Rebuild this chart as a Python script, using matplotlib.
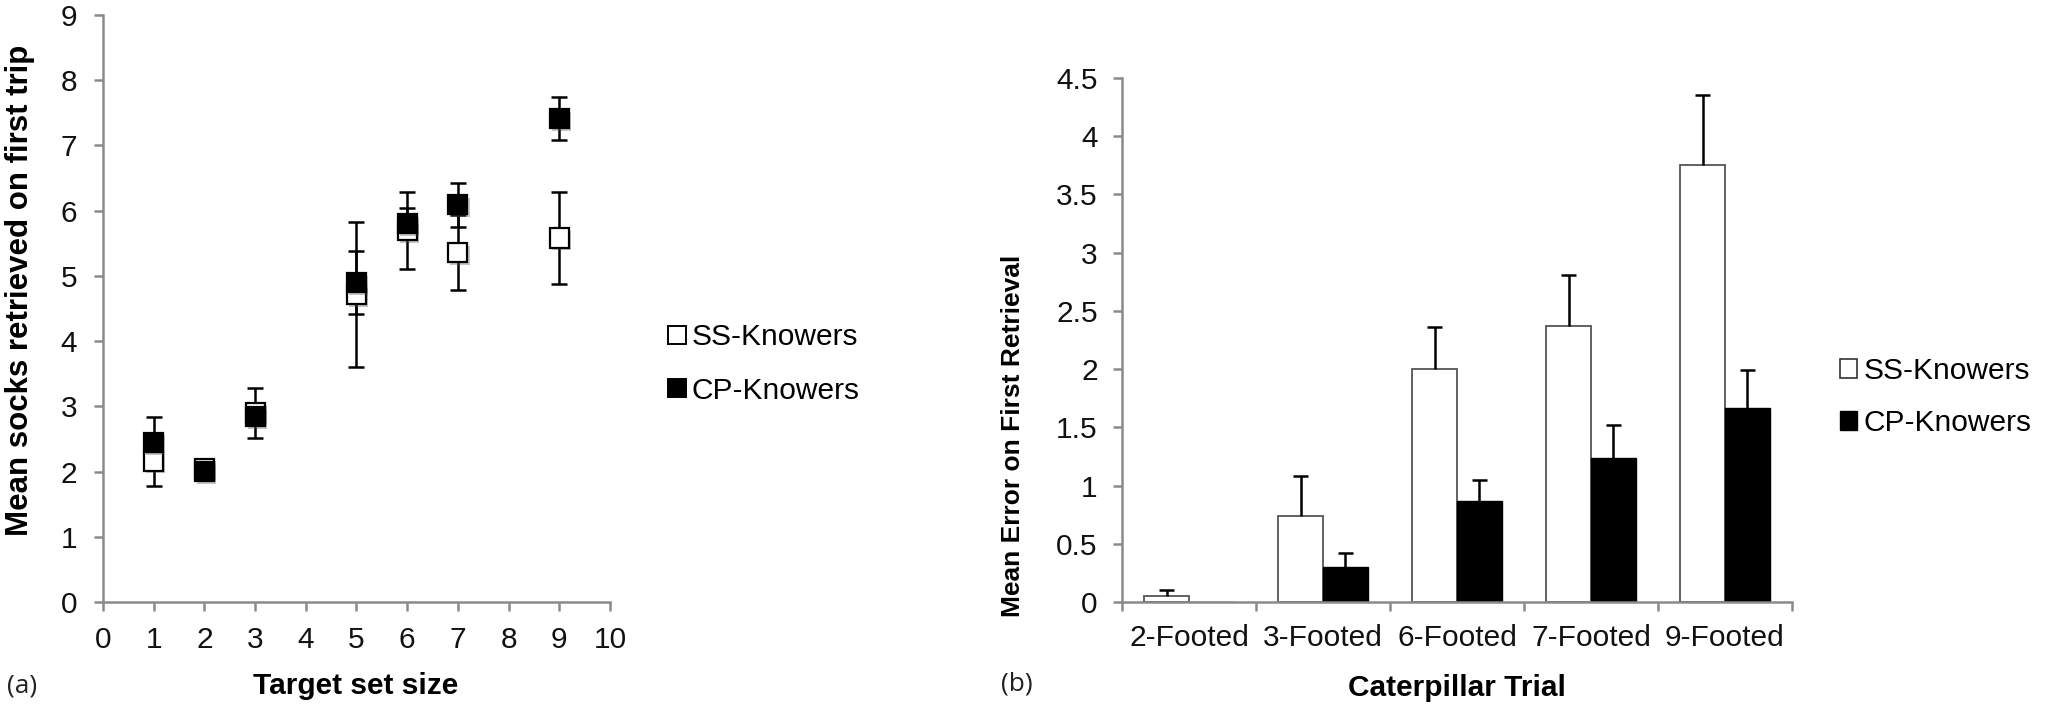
import numpy as np
import matplotlib
matplotlib.use("Agg")
import matplotlib.pyplot as plt
import matplotlib.patheffects as pe
from matplotlib.lines import Line2D
from matplotlib.patches import Patch
from matplotlib import font_manager

# panel (a): mean socks retrieved on first trip
set_sizes = [1, 2, 3, 5, 6, 7, 9]
ss_socks = [2.16, 2.05, 2.90, 4.71, 5.69, 5.36, 5.58]
ss_socks_err = [0.38, 0.08, 0.38, 1.11, 0.59, 0.58, 0.70]
cp_socks = [2.45, 2.00, 2.84, 4.90, 5.80, 6.09, 7.41]
cp_socks_err = [0.39, 0.10, 0.12, 0.48, 0.24, 0.34, 0.33]

# panel (b): mean error on first retrieval
trials = ["2-Footed", "3-Footed", "6-Footed", "7-Footed", "9-Footed"]
ss_error = [0.05, 0.735, 2.00, 2.37, 3.75]
ss_error_sem = [0.05, 0.345, 0.36, 0.44, 0.60]
cp_error = [0.0, 0.30, 0.87, 1.24, 1.67]
cp_error_sem = [0.0, 0.12, 0.18, 0.28, 0.32]

groups = ["SS-Knowers", "CP-Knowers"]

FONT = "Liberation Sans"
installed = {f.name for f in font_manager.fontManager.ttflist}
NARROW = "Liberation Sans Narrow" if "Liberation Sans Narrow" in installed else None
plt.rcParams["font.family"] = [FONT, "DejaVu Sans"]
AXIS_GREY = "#8a8a8a"

W, H = 2055, 709
fig = plt.figure(figsize=(W / 100, H / 100), dpi=100)


def fx(px):
    return px / W


def fy(py):
    return 1 - py / H


def style_axes(ax):
    for s in ["top", "right"]:
        ax.spines[s].set_visible(False)
    for s in ["left", "bottom"]:
        ax.spines[s].set_color(AXIS_GREY)
        ax.spines[s].set_linewidth(1.8)
    ax.tick_params(which="both", direction="out", color=AXIS_GREY, width=1.8,
                   length=6.5, labelsize=21.5, labelcolor="#111111")


# ---- (a) scatter with error bars ----
ax1 = fig.add_axes([fx(103), fy(602), fx(610 - 103), (602 - 15) / H])
style_axes(ax1)
ax1.set_xlim(0, 10)
ax1.set_ylim(0, 9)
ax1.set_xticks(range(0, 11))
ax1.set_yticks(range(0, 10))
ax1.tick_params(axis="x", pad=11)
ax1.tick_params(axis="y", pad=12)

shadow = [pe.SimplePatchShadow(offset=(1.5, -2), shadow_rgbFace="#555555", alpha=0.35), pe.Normal()]
for means, errs in [(ss_socks, ss_socks_err), (cp_socks, cp_socks_err)]:
    ax1.errorbar(set_sizes, means, yerr=errs, fmt="none", ecolor="black",
                 elinewidth=1.8, capsize=6, capthick=1.8, zorder=2)
for means, face in [(ss_socks, "white"), (cp_socks, "black")]:
    ax1.plot(set_sizes, means, linestyle="none", marker="s", markersize=13.8,
             markerfacecolor=face, markeredgecolor="black", markeredgewidth=1.6,
             zorder=3, path_effects=shadow)

fig.legend(
    handles=[Line2D([], [], linestyle="none", marker="s", markersize=12.5,
                    markerfacecolor=f, markeredgecolor="black", markeredgewidth=1.4)
             for f in ["white", "black"]],
    labels=groups, loc="center left", bbox_to_anchor=(fx(668), fy(364)),
    frameon=False, fontsize=21.5, handlelength=0.6, handletextpad=0.2,
    labelspacing=0.85, borderpad=0, borderaxespad=0)

fig.text(fx(356), fy(686), "Target set size", ha="center", va="center",
         fontsize=21.5, fontweight="bold")
fig.text(fx(20), fy(290), "Mean socks retrieved on first trip", ha="center",
         va="center", rotation=90, fontsize=22.5, fontweight="bold")
fig.text(fx(7), fy(686), "(a)", ha="left", va="center", fontsize=19,
         family=["Open Sans", "DejaVu Sans"], color="#222222")

# ---- (b) grouped bars ----
ax2 = fig.add_axes([fx(1122), fy(602), fx(1792 - 1122), (602 - 78) / H])
style_axes(ax2)
x = np.arange(len(trials))
bw = 0.335
ax2.set_xlim(-0.5, len(trials) - 0.5)
ax2.set_ylim(0, 4.5)
ax2.set_yticks(np.arange(0, 4.51, 0.5))
ax2.set_yticklabels(["0", "0.5", "1", "1.5", "2", "2.5", "3", "3.5", "4", "4.5"])
ax2.set_xticks(x)
ax2.set_xticklabels(trials)
ax2.set_xticks(np.arange(-0.5, len(trials)), minor=True)
ax2.tick_params(axis="x", which="major", length=0, pad=16)
ax2.tick_params(axis="y", pad=11)

ax2.bar(x - bw / 2, ss_error, width=bw, color="white", edgecolor="#555555", linewidth=1.3, zorder=2)
ax2.bar(x + bw / 2, cp_error, width=bw, color="black", edgecolor="black", linewidth=1.0, zorder=2)

cap_half = 0.055
for offs, vals, errs in [(-bw / 2, ss_error, ss_error_sem), (bw / 2, cp_error, cp_error_sem)]:
    v = np.array(vals)
    e = np.array(errs)
    keep = e > 0
    xs = x[keep] + offs
    ax2.vlines(xs, v[keep], v[keep] + e[keep], color="black", linewidth=1.8, zorder=3)
    ax2.hlines(v[keep] + e[keep], xs - cap_half, xs + cap_half, color="black", linewidth=1.8, zorder=3)

fig.legend(
    handles=[Patch(facecolor="white", edgecolor="#333333", linewidth=1.2),
             Patch(facecolor="black", edgecolor="black")],
    labels=groups, loc="center left", bbox_to_anchor=(fx(1840), fy(397)),
    frameon=False, fontsize=21.5, handlelength=0.58, handleheight=0.62,
    handletextpad=0.22, labelspacing=0.8, borderpad=0, borderaxespad=0)

fig.text(fx(1457), fy(688), "Caterpillar Trial", ha="center", va="center",
         fontsize=21.5, fontweight="bold")
if NARROW:
    fig.text(fx(1013), fy(436), "Mean Error on First Retrieval", ha="center",
             va="center", rotation=90, fontsize=21.5, fontweight="bold", family=[NARROW, FONT])
else:
    fig.text(fx(1013), fy(436), "Mean Error on First Retrieval", ha="center",
             va="center", rotation=90, fontsize=19, fontweight="bold")
fig.text(fx(1001), fy(684), "(b)", ha="left", va="center", fontsize=19,
         family=["Open Sans", "DejaVu Sans"], color="#222222")

fig.savefig("out.png", dpi=100)
